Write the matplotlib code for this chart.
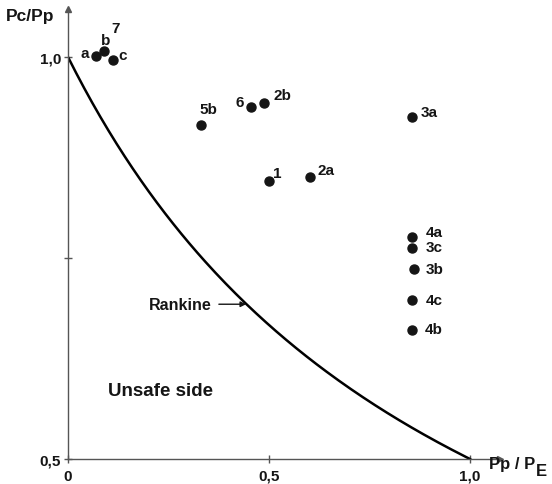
import numpy as np
import matplotlib.pyplot as plt

plt.rcParams['font.family'] = ['Liberation Sans', 'DejaVu Sans']
plt.rcParams['font.weight'] = 'bold'

# test results, Pp/PE against Pc/Pp
labels = ["a", "b", "c", "5b", "6", "2b", "3a", "1", "2a", "4a", "3c", "3b", "4c", "4b"]
x_vals = [0.070, 0.090, 0.112, 0.331, 0.455, 0.488, 0.856, 0.500, 0.602, 0.856, 0.856, 0.861, 0.856, 0.856]
y_vals = [1.001, 1.0075, 0.996, 0.915, 0.9375, 0.9425, 0.925, 0.846, 0.851, 0.776, 0.7625, 0.736, 0.6975, 0.661]

# label offsets in pixels (dx, dy)
offsets = [(-11, 3), (1, 11), (10, 5), (7, 16), (-11, 5), (18, 8), (17, 5), (8, 8),
           (16, 7), (22, 5), (22, 1), (21, 0), (22, 0), (22, 1)]

xticks = [0, 0.5, 1.0]
xticklabels = ["0", "0,5", "1,0"]
yticks = [0.5, 0.75, 1.0]
yticklabels = ["0,5", "", "1,0"]

ink = '#151515'
axis_col = '#555555'

fig = plt.figure(figsize=(5.52, 4.85), dpi=100)
ax = fig.add_axes([68 / 552, 25 / 485, 432 / 552, 450 / 485])
ax.set_xlim(0, 432 / 402)
ax.set_ylim(0.5, 0.5 + 450 / 804)

# Rankine curve: Pc/Pp = 1 / (1 + Pp/PE)
xr = np.linspace(0, 1, 200)
ax.plot(xr, 1 / (1 + xr), color='black', lw=1.8)

ax.plot(x_vals, y_vals, 'o', color=ink, ms=6.5, clip_on=False)
for lab, x, y, (dx, dy) in zip(labels, x_vals, y_vals, offsets):
    ax.annotate(lab, (x, y), xytext=(dx, dy), textcoords='offset pixels',
                ha='center', va='center', fontsize=11, color=ink)
ax.annotate("7", (x_vals[1], y_vals[1]), xytext=(11, 23), textcoords='offset pixels',
            ha='center', va='center', fontsize=11, color=ink)

# axes with arrows
for s in ['top', 'right']:
    ax.spines[s].set_visible(False)
for s in ['left', 'bottom']:
    ax.spines[s].set_color(axis_col)
    ax.spines[s].set_linewidth(1.0)
ax.plot(1, 0, '>', color=axis_col, ms=5, transform=ax.transAxes, clip_on=False)
ax.plot(0, 1, '^', color=axis_col, ms=5, transform=ax.transAxes, clip_on=False)

ax.set_xticks(xticks)
ax.set_xticklabels(xticklabels)
ax.set_yticks(yticks)
ax.set_yticklabels(yticklabels)
ax.tick_params(direction='inout', length=6, width=1, color=axis_col,
               labelsize=11, labelcolor=ink, pad=4)
ax.tick_params(axis='y', pad=2)

fig.text(30 / 552, 1 - 17 / 485, "Pc/Pp", ha='center', va='center', fontsize=12.5, color=ink)
fig.text(512 / 552, 1 - 465 / 485, "Pp / P", ha='center', va='center', fontsize=12, color=ink)
fig.text(541 / 552, 1 - 472 / 485, "E", ha='center', va='center', fontsize=12, color=ink)

ax.text(0.229, 0.585, "Unsafe side", ha='center', va='center', fontsize=13.5, color=ink)
ax.annotate("Rankine", xy=(0.443, 0.6925), xytext=(0.28, 0.6925),
            ha='center', va='center', fontsize=11.5, color=ink,
            arrowprops=dict(arrowstyle='-|>', color=ink, lw=1, shrinkA=3, shrinkB=0,
                            mutation_scale=8))

fig.savefig("out.png", dpi=100)
